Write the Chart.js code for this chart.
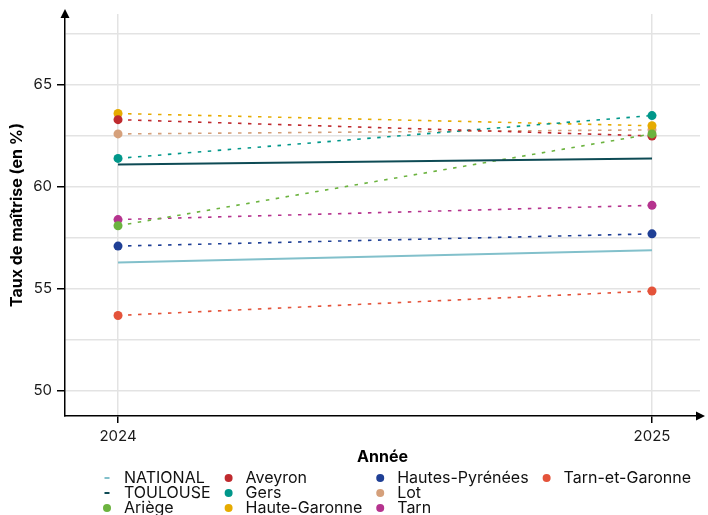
<!DOCTYPE html>
<html lang="fr">
<head>
<meta charset="utf-8">
<script src="https://cdn.jsdelivr.net/npm/chart.js@4"></script>
<style>
html, body { margin: 0; padding: 0; background: #fff; }
#wrap { width: 708px; height: 515px; position: relative; overflow: hidden; }
</style>
</head>
<body>
<div id="wrap"><canvas id="myChart" width="708" height="515"></canvas></div>
<script>
// data
const years = [2024, 2025]
const seriesNames = ['NATIONAL', 'TOULOUSE', 'Ariège', 'Aveyron', 'Gers', 'Haute-Garonne',
    'Hautes-Pyrénées', 'Lot', 'Tarn', 'Tarn-et-Garonne']
const national = [56.3, 56.9]
const toulouse = [61.1, 61.4]
const ariege = [58.1, 62.6]
const aveyron = [63.3, 62.5]
const gers = [61.4, 63.5]
const hauteGaronne = [63.6, 63.0]
const hautesPyrenees = [57.1, 57.7]
const lot = [62.6, 62.8]
const tarn = [58.4, 59.1]
const tarnEtGaronne = [53.7, 54.9]
const yTicks = [50, 52.5, 55, 57.5, 60, 62.5, 65, 67.5]

const seriesValues = [national, toulouse, ariege, aveyron, gers, hauteGaronne,
    hautesPyrenees, lot, tarn, tarnEtGaronne]
const colors = ['#82c0cb', '#0e4b55', '#6cb33f', '#bf2a2e', '#00978a', '#e6ab00',
    '#1f3f95', '#d5a07b', '#b5338e', '#e4533a']
const FONT = 'Inter'

const datasets = seriesNames.map((name, i) => {
    const isRef = i < 2
    return {
        label: name,
        data: years.map((yr, j) => ({ x: yr, y: seriesValues[i][j] })),
        borderColor: colors[i],
        backgroundColor: colors[i],
        borderWidth: isRef ? 2 : 1.6,
        borderDash: isRef ? [] : [3.5, 6.5],
        pointRadius: isRef ? 0 : 4.5,
        pointHoverRadius: 0,
        pointBorderWidth: 0,
        tension: 0
    }
})

// legend laid out in columns like the original (filled top to bottom)
const legendPlugin = {
    id: 'colLegend',
    afterDraw(chart) {
        const ctx = chart.ctx
        const rowsY = [478, 493, 508]
        ctx.save()
        ctx.font = '16px ' + FONT
        ctx.textBaseline = 'middle'
        ctx.textAlign = 'left'
        let symX = 107
        for (let c = 0; c * 3 < seriesNames.length; c++) {
            let maxW = 0
            for (let r = 0; r < 3; r++) {
                const i = c * 3 + r
                if (i >= seriesNames.length) break
                const y = rowsY[r]
                ctx.fillStyle = colors[i]
                if (i < 2) {
                    ctx.fillRect(symX - 2.5, y - 1, 5, 2)
                } else {
                    ctx.beginPath()
                    ctx.arc(symX, y, 4, 0, Math.PI * 2)
                    ctx.fill()
                }
                ctx.fillStyle = '#111'
                ctx.fillText(seriesNames[i], symX + 17, y)
                maxW = Math.max(maxW, ctx.measureText(seriesNames[i]).width)
            }
            symX = symX + 17 + maxW + 18
        }
        ctx.restore()
    }
}

// arrow heads at the ends of both axes
const arrowPlugin = {
    id: 'axisArrows',
    afterDraw(chart) {
        const { ctx, chartArea } = chart
        ctx.save()
        ctx.fillStyle = '#000'
        ctx.beginPath()
        ctx.moveTo(chartArea.left, chartArea.top - 5)
        ctx.lineTo(chartArea.left - 4.5, chartArea.top + 4)
        ctx.lineTo(chartArea.left + 4.5, chartArea.top + 4)
        ctx.closePath()
        ctx.fill()
        ctx.beginPath()
        ctx.moveTo(chartArea.right + 5, chartArea.bottom)
        ctx.lineTo(chartArea.right - 4, chartArea.bottom - 4.5)
        ctx.lineTo(chartArea.right - 4, chartArea.bottom + 4.5)
        ctx.closePath()
        ctx.fill()
        ctx.restore()
    }
}

const ctx = document.getElementById('myChart')
new Chart(ctx, {
    type: 'line',
    data: { datasets: datasets },
    plugins: [legendPlugin, arrowPlugin],
    options: {
        responsive: false,
        animation: false,
        devicePixelRatio: 1,
        layout: { padding: { top: 14, right: 8, bottom: 48, left: 0 } },
        plugins: { legend: { display: false }, tooltip: { enabled: false } },
        scales: {
            x: {
                type: 'linear',
                min: 2023.9007,
                max: 2025.0899,
                afterBuildTicks: s => { s.ticks = years.map(v => ({ value: v })) },
                afterFit: s => { s.height = 51 },
                ticks: {
                    autoSkip: false,
                    callback: v => String(v),
                    font: { family: FONT, size: 15 },
                    color: '#1a1a1a',
                    padding: 4
                },
                grid: { color: '#e3e3e3', lineWidth: 1.5, tickLength: 7, tickColor: '#000', tickWidth: 1.5 },
                border: { color: '#000', width: 1.5 },
                title: {
                    display: true,
                    text: 'Année',
                    font: { family: FONT, size: 16, weight: 'bold' },
                    color: '#000',
                    padding: { top: 0, bottom: 0 }
                }
            },
            y: {
                type: 'linear',
                min: 48.77,
                max: 68.48,
                afterBuildTicks: s => { s.ticks = yTicks.map(v => ({ value: v })) },
                afterFit: s => { s.width = 65 },
                ticks: {
                    autoSkip: false,
                    callback: v => (v % 5 === 0 ? String(v) : ''),
                    font: { family: FONT, size: 15 },
                    color: '#1a1a1a',
                    padding: 5
                },
                grid: {
                    color: '#e3e3e3',
                    lineWidth: 1.5,
                    tickLength: 8,
                    tickWidth: 1.5,
                    tickColor: c => (c.tick && c.tick.value % 5 === 0 ? '#000' : 'rgba(0,0,0,0)')
                },
                border: { color: '#000', width: 1.5 },
                title: {
                    display: true,
                    text: 'Taux de maîtrise (en %)',
                    font: { family: FONT, size: 16, weight: 'bold' },
                    color: '#000',
                    padding: { top: 7.5, bottom: 0 }
                }
            }
        }
    }
})
</script>
</body>
</html>
